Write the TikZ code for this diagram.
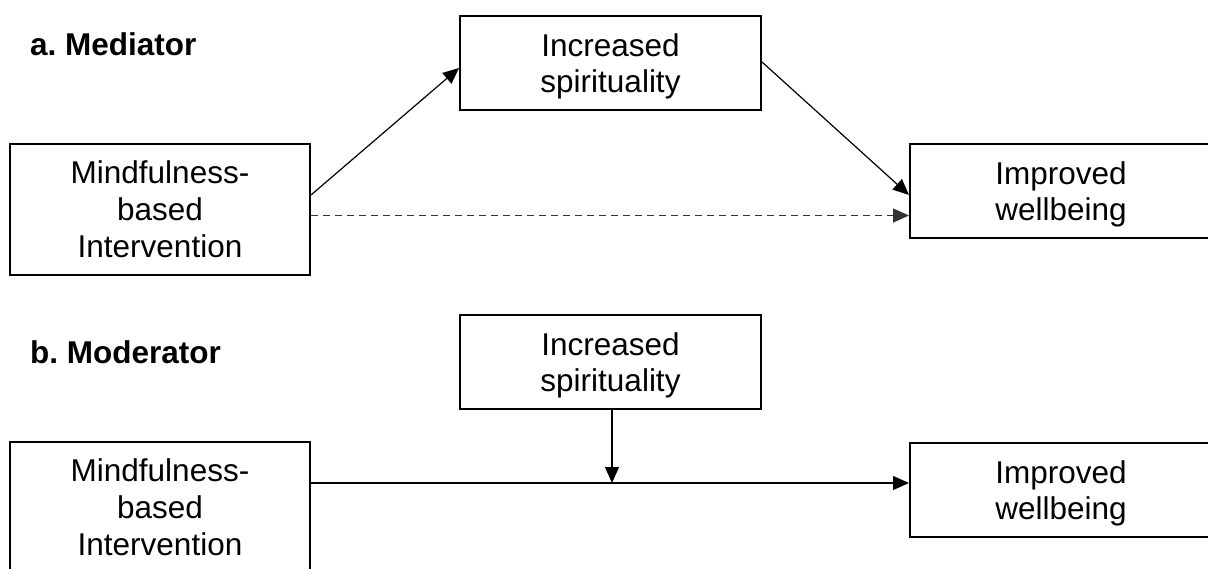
\documentclass[tikz,border=0pt]{standalone}
\usepackage{fontspec}
\setmainfont{Liberation Sans}
\usetikzlibrary{arrows.meta}
\begin{document}
\begin{tikzpicture}[x=1pt,y=-1pt,
  box/.style={draw=black,line width=2pt,inner sep=0pt,align=center,
    font=\fontsize{31.5}{36.8}\selectfont},
  mbibox/.style={box,minimum width=300pt,minimum height=131pt},
  smallbox/.style={box,minimum width=301pt,minimum height=94pt,text depth=0pt},
  title/.style={anchor=base west,inner sep=0pt,font=\fontsize{31.5}{36}\selectfont\bfseries},
  conn/.style={line width=1.2pt,draw=black,-{Triangle[length=16pt,width=14pt]}},
  dashconn/.style={conn,draw=black!80,line width=1.3pt,dash pattern=on 7pt off 5pt}]
\useasboundingbox (0,0) rectangle (1208,569);
\fill[white] (0,0) rectangle (1208,569);
% a. Mediator
\node[title] (ta) at (30,56) {a.\ Mediator};
\node[mbibox] (mbi1) at (160,209.5) {Mindfulness-\\based\\Intervention};
\node[smallbox] (is1) at (610.5,63) {Increased\\spirituality};
\node[smallbox,minimum width=302pt] (iw1) at (1061,191) {Improved\\wellbeing};
\draw[conn] ([yshift=14.5pt]mbi1.east) -- ([yshift=-5pt]is1.west);
\draw[conn] ([yshift=1pt]is1.east) -- ([yshift=-4pt]iw1.west);
\draw[dashconn] ([yshift=-6pt]mbi1.east) -- ([yshift=-24.5pt]iw1.west);
% b. Moderator
\node[title] (tb) at (30,363) {b.\ Moderator};
\node[smallbox] (is2) at (610.5,362) {Increased\\spirituality};
\node[mbibox] (mbi2) at (160,507.5) {Mindfulness-\\based\\Intervention};
\node[smallbox,minimum width=302pt] (iw2) at (1061,490) {Improved\\wellbeing};
\coordinate (s2) at ([yshift=24.5pt]mbi2.east);
\draw[conn] (s2) -- (s2 -| iw2.west);
\coordinate (j) at (is2.south |- s2);
\draw[conn] ([xshift=1.5pt]is2.south) -- ([xshift=1.5pt]j);
\end{tikzpicture}
\end{document}
